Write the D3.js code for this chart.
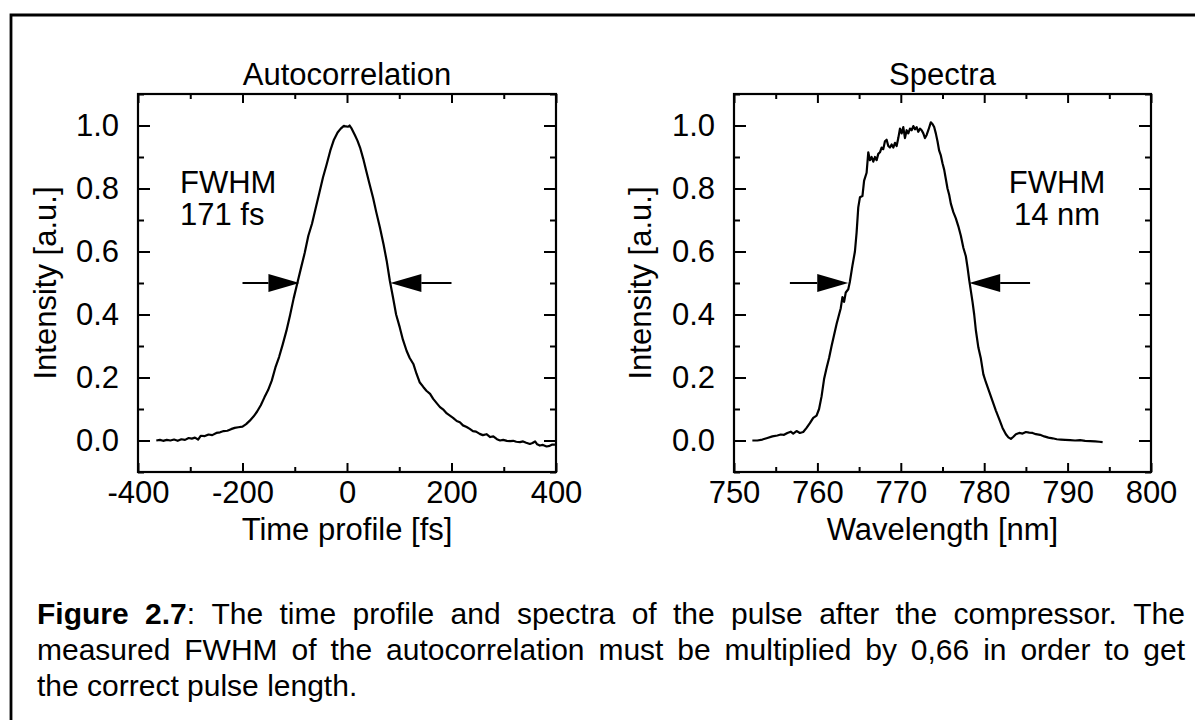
<!DOCTYPE html>
<html>
<head>
<meta charset="utf-8">
<script src="https://cdn.jsdelivr.net/npm/d3@7"></script>
<style>
  body { margin: 0; background: #fff; }
  svg { display: block; font-family: "Liberation Sans", Arial, Helvetica, sans-serif; }
  .axis text { font-size: 31px; fill: #000; }
  .axis line { stroke: #000; stroke-width: 2; }
  .axis path { display: none; }
</style>
</head>
<body>
<div id="chart"></div>
<script>
// autocorrelation trace, time in fs
const acTime = [-365, -358, -352, -345, -338, -331, -324, -317, -310, -303, -297, -291, -285, -280, -272, -265, -258, -250, -243, -236,
  -229, -222, -215, -208, -200, -193, -186, -179, -172, -165, -158, -151, -144, -137, -130, -123, -116, -109, -102, -95,
  -88, -81, -74, -67, -60, -53, -46, -39, -32, -25, -18, -12, -6, -2, 2, 5, 9, 15, 20, 25,
  31, 37, 43, 50, 56, 63, 70, 76, 82, 88, 94, 101, 107, 114, 120, 127, 133, 139, 146, 152,
  159, 165, 172, 178, 185, 191, 197, 203, 210, 216, 222, 229, 235, 241, 247, 254, 260, 267, 274, 280,
  287, 293, 299, 306, 312, 318, 324, 331, 337, 343, 350, 355, 360, 364, 369, 375, 382, 388, 393, 398];
const acIntensity = [0.000, 0.002, -0.001, 0.002, 0.000, 0.003, -0.001, 0.004, 0.002, 0.008, 0.006, 0.009, 0.003, 0.015, 0.014, 0.019, 0.017, 0.024, 0.026, 0.030,
  0.031, 0.036, 0.040, 0.042, 0.044, 0.052, 0.063, 0.076, 0.092, 0.112, 0.137, 0.160, 0.190, 0.232, 0.265, 0.305, 0.348, 0.398, 0.452, 0.500,
  0.548, 0.595, 0.650, 0.688, 0.737, 0.786, 0.835, 0.876, 0.920, 0.955, 0.978, 0.990, 0.999, 0.997, 0.996, 1.000, 0.990, 0.970, 0.952, 0.930,
  0.895, 0.855, 0.815, 0.770, 0.725, 0.676, 0.622, 0.570, 0.507, 0.455, 0.400, 0.359, 0.320, 0.285, 0.262, 0.243, 0.212, 0.185, 0.170, 0.158,
  0.148, 0.132, 0.118, 0.106, 0.097, 0.086, 0.079, 0.072, 0.062, 0.058, 0.048, 0.043, 0.037, 0.030, 0.028, 0.021, 0.017, 0.020, 0.011, 0.013,
  0.004, 0.000, 0.002, -0.001, -0.002, -0.001, -0.004, -0.005, -0.003, -0.007, -0.011, -0.008, -0.003, -0.012, -0.016, -0.014, -0.019, -0.017, -0.013, -0.013];

// spectrum, wavelength in nm
const spWavelength = [752.2, 752.8, 753.4, 754.0, 754.6, 755.2, 755.6, 756.0, 756.4, 756.8, 757.1, 757.5, 757.9, 758.3, 758.7, 759.1, 759.5, 759.9, 760.2, 760.5,
  760.8, 761.1, 761.4, 761.7, 762.0, 762.3, 762.6, 762.8, 763.0, 763.2, 763.4, 763.7, 763.9, 764.2, 764.5, 764.7, 764.9, 765.1, 765.4, 765.6,
  765.9, 766.1, 766.3, 766.5, 766.7, 766.9, 767.1, 767.3, 767.5, 767.7, 767.9, 768.1, 768.3, 768.5, 768.7, 768.9, 769.1, 769.3, 769.5, 769.7,
  769.9, 770.1, 770.3, 770.5, 770.7, 770.9, 771.1, 771.3, 771.5, 771.7, 771.9, 772.1, 772.3, 772.5, 772.7, 772.9, 773.1, 773.3, 773.6, 773.8,
  774.0, 774.2, 774.4, 774.6, 774.8, 775.0, 775.2, 775.4, 775.6, 775.8, 776.0, 776.3, 776.6, 776.9, 777.2, 777.5, 777.8, 778.0, 778.2, 778.4,
  778.6, 778.8, 779.0, 779.3, 779.6, 779.9, 780.2, 780.6, 781.0, 781.4, 781.8, 782.2, 782.6, 782.9, 783.2, 783.5, 783.8, 784.2, 784.6, 785.0,
  785.4, 785.8, 786.2, 786.7, 787.2, 787.7, 788.2, 788.7, 789.2, 789.7, 790.3, 790.9, 791.5, 792.1, 792.7, 793.3, 793.8, 794.2];
const spIntensity = [0.000, 0.000, 0.003, 0.008, 0.013, 0.016, 0.019, 0.018, 0.024, 0.028, 0.022, 0.030, 0.024, 0.027, 0.040, 0.055, 0.072, 0.079, 0.100, 0.140,
  0.195, 0.230, 0.262, 0.300, 0.335, 0.370, 0.400, 0.420, 0.455, 0.440, 0.470, 0.480, 0.505, 0.555, 0.600, 0.660, 0.740, 0.772, 0.776, 0.825,
  0.850, 0.915, 0.890, 0.900, 0.885, 0.900, 0.890, 0.910, 0.915, 0.930, 0.925, 0.950, 0.955, 0.935, 0.930, 0.940, 0.930, 0.945, 0.935, 0.960,
  0.990, 0.975, 0.995, 0.960, 0.985, 0.975, 0.990, 0.985, 0.998, 0.988, 0.995, 0.980, 0.990, 0.985, 0.975, 0.960, 0.970, 0.985, 1.010, 1.005,
  0.995, 0.975, 0.950, 0.920, 0.905, 0.880, 0.860, 0.830, 0.800, 0.780, 0.752, 0.725, 0.705, 0.680, 0.650, 0.612, 0.585, 0.550, 0.510, 0.475,
  0.440, 0.400, 0.350, 0.295, 0.260, 0.210, 0.185, 0.155, 0.125, 0.095, 0.068, 0.040, 0.020, 0.010, 0.005, 0.012, 0.020, 0.024, 0.022, 0.027,
  0.025, 0.024, 0.020, 0.018, 0.013, 0.009, 0.007, 0.004, 0.003, 0.002, 0.001, 0.000, 0.001, -0.001, -0.002, -0.003, -0.004, -0.005];

// FWHM arrows: [tail, tip] along x at half maximum
const acArrows = [[-200, -91], [200, 83]];
const spArrows = [[756.7, 763.7], [785.5, 778.2]];
const halfMax = 0.5;

const acMajorTicks = [-400, -200, 0, 200, 400];
const acMinorTicks = [-300, -100, 100, 300];
const spMajorTicks = [750, 760, 770, 780, 790, 800];
const spMinorTicks = [755, 765, 775, 785, 795];
const yMajorTicks = [0, 0.2, 0.4, 0.6, 0.8, 1.0];
const yMinorTicks = [-0.1, 0.1, 0.3, 0.5, 0.7, 0.9, 1.1];

const captionLines = [
  [{ t: "Figure", b: true }, { t: "2.7", b: true, tail: ":" }, "The", "time", "profile", "and", "spectra", "of", "the", "pulse", "after", "the", "compressor.", "The"],
  ["measured", "FWHM", "of", "the", "autocorrelation", "must", "be", "multiplied", "by", "0,66", "in", "order", "to", "get"],
  ["the", "correct", "pulse", "length."]
];

const W = 1195, H = 720;
const svg = d3.select("#chart").append("svg").attr("width", W).attr("height", H);

// page border (top and left edges of the scanned box)
svg.append("path")
  .attr("d", `M11,${H} L11,15 L${W},15`)
  .attr("fill", "none").attr("stroke", "#000").attr("stroke-width", 2.8);

const panelTop = 94, panelBottom = 472;
const fontSize = "31px";

function drawPanel(opts) {
  const g = svg.append("g").attr("transform", `translate(${opts.left},${panelTop})`);
  const w = opts.right - opts.left, h = panelBottom - panelTop;
  const x = d3.scaleLinear().domain(opts.xDomain).range([0, w]);
  const y = d3.scaleLinear().domain([-0.1, 1.1]).range([h, 0]);

  g.append("g").attr("class", "axis").attr("transform", `translate(0,${h})`)
    .call(d3.axisBottom(x).tickValues(opts.major).tickSize(-9).tickPadding(9).tickFormat(d => String(d)));
  g.append("g").attr("class", "axis").attr("transform", `translate(0,${h})`)
    .call(d3.axisBottom(x).tickValues(opts.minor).tickSize(-5).tickFormat(""));
  g.append("g").attr("class", "axis")
    .call(d3.axisTop(x).tickValues(opts.major).tickSize(-9).tickFormat(""));
  g.append("g").attr("class", "axis")
    .call(d3.axisTop(x).tickValues(opts.minor).tickSize(-5).tickFormat(""));

  g.append("g").attr("class", "axis")
    .call(d3.axisLeft(y).tickValues(yMajorTicks).tickSize(-12).tickPadding(19).tickFormat(d3.format(".1f")));
  g.append("g").attr("class", "axis")
    .call(d3.axisLeft(y).tickValues(yMinorTicks).tickSize(-6).tickFormat(""));
  g.append("g").attr("class", "axis").attr("transform", `translate(${w},0)`)
    .call(d3.axisRight(y).tickValues(yMajorTicks).tickSize(-12).tickFormat(""));
  g.append("g").attr("class", "axis").attr("transform", `translate(${w},0)`)
    .call(d3.axisRight(y).tickValues(yMinorTicks).tickSize(-6).tickFormat(""));

  g.append("rect").attr("width", w).attr("height", h)
    .attr("fill", "none").attr("stroke", "#000").attr("stroke-width", 2.2);

  const pts = opts.xs.map((v, i) => [v, opts.ys[i]]);
  g.append("path").datum(pts)
    .attr("fill", "none").attr("stroke", "#000").attr("stroke-width", 2.2)
    .attr("stroke-linejoin", "round")
    .attr("d", d3.line().x(d => x(d[0])).y(d => y(d[1])));

  opts.arrows.forEach(([tail, tip]) => {
    const x0 = x(tail), x1 = x(tip), yy = y(halfMax);
    const dir = Math.sign(x1 - x0);
    const headLen = 31, headHalf = 9;
    g.append("line").attr("x1", x0).attr("x2", x1 - dir * headLen).attr("y1", yy).attr("y2", yy)
      .attr("stroke", "#000").attr("stroke-width", 2);
    g.append("path")
      .attr("d", `M${x1},${yy} L${x1 - dir * headLen},${yy - headHalf} L${x1 - dir * headLen},${yy + headHalf} Z`)
      .attr("fill", "#000");
  });

  g.append("text").attr("x", w / 2).attr("y", -9).attr("text-anchor", "middle")
    .style("font-size", fontSize).text(opts.title);
  g.append("text").attr("x", w / 2).attr("y", h + 68).attr("text-anchor", "middle")
    .style("font-size", fontSize).text(opts.xLabel);
  g.append("text")
    .attr("transform", `translate(${opts.yLabelX - opts.left},${h / 2}) rotate(-90)`)
    .attr("text-anchor", "middle").style("font-size", fontSize).text("Intensity [a.u.]");

  opts.fwhm.lines.forEach((t, i) => {
    g.append("text").attr("x", opts.fwhm.x - opts.left).attr("y", opts.fwhm.y - panelTop + i * 32)
      .attr("text-anchor", opts.fwhm.anchor).style("font-size", fontSize).text(t);
  });
}

drawPanel({
  left: 138, right: 556, xDomain: [-400, 400],
  major: acMajorTicks, minor: acMinorTicks,
  xs: acTime, ys: acIntensity, arrows: acArrows,
  title: "Autocorrelation", xLabel: "Time profile [fs]", yLabelX: 56,
  fwhm: { lines: ["FWHM", "171 fs"], x: 180, y: 193, anchor: "start" }
});

drawPanel({
  left: 734, right: 1151, xDomain: [750, 800],
  major: spMajorTicks, minor: spMinorTicks,
  xs: spWavelength, ys: spIntensity, arrows: spArrows,
  title: "Spectra", xLabel: "Wavelength [nm]", yLabelX: 651,
  fwhm: { lines: ["FWHM", "14 nm"], x: 1057, y: 193, anchor: "middle" }
});

// caption, justified like the printed page
const capLeft = 37, capRight = 1185, capSize = 30;
const capBaselines = [624, 660, 696];
captionLines.forEach((words, li) => {
  const nodes = words.map(wd => {
    const w = typeof wd === "string" ? { t: wd } : wd;
    const t = svg.append("text").attr("y", capBaselines[li]).style("font-size", capSize + "px");
    t.append("tspan").style("font-weight", w.b ? "bold" : "normal").text(w.t);
    if (w.tail) t.append("tspan").text(w.tail);
    return t;
  });
  const widths = nodes.map(n => n.node().getComputedTextLength());
  const total = d3.sum(widths);
  const justify = li < captionLines.length - 1;
  const gap = justify ? (capRight - capLeft - total) / (nodes.length - 1) : capSize * 0.278;
  let cx = capLeft;
  nodes.forEach((n, i) => { n.attr("x", cx); cx += widths[i] + gap; });
});
</script>
</body>
</html>
